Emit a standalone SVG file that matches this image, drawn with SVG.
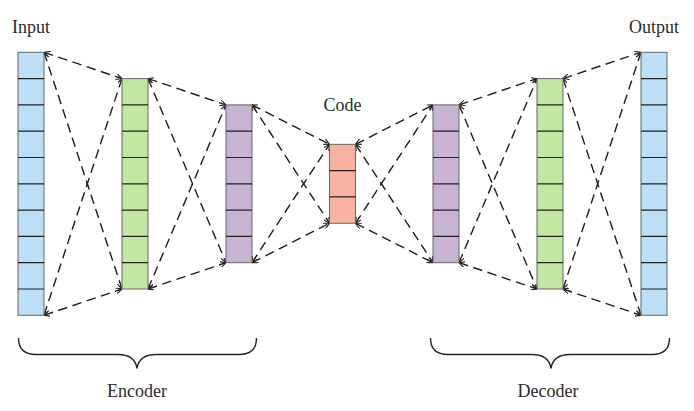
<svg xmlns="http://www.w3.org/2000/svg" width="694" height="411" viewBox="0 0 694 411">
<defs>
<marker id="ah" viewBox="0 0 6 6" refX="6" refY="3" markerWidth="6" markerHeight="6" markerUnits="userSpaceOnUse" orient="auto-start-reverse">
<path d="M0,0 L6,3 L0,6" fill="none" stroke="#222" stroke-width="1.1"/>
</marker>
</defs>
<style>
.lbl{font-family:"Liberation Serif","Times New Roman",serif;font-size:18px;fill:#2a2a2a}
.col{stroke:#666;stroke-width:1}
.div{stroke:#222;stroke-width:1.2}
.blue{fill:#bddff5}
.green{fill:#c4e6a3}
.purple{fill:#c9b3d3}
.red{fill:#f7b2a2}
.cn line{stroke:#1e1e1e;stroke-width:1.4;stroke-dasharray:9.5 5.5;marker-start:url(#ah);marker-end:url(#ah)}
.brace{fill:none;stroke:#222;stroke-width:1.4}
</style>
<rect width="694" height="411" fill="#fff"/>

<g id="connectors" class="cn">
<line x1="44" y1="52.3" x2="122" y2="78.6"/>
<line x1="44" y1="52.3" x2="122" y2="289"/>
<line x1="44" y1="315.3" x2="122" y2="78.6"/>
<line x1="44" y1="315.3" x2="122" y2="289"/>
<line x1="148" y1="78.6" x2="226" y2="104.9"/>
<line x1="148" y1="78.6" x2="226" y2="262.7"/>
<line x1="148" y1="289" x2="226" y2="104.9"/>
<line x1="148" y1="289" x2="226" y2="262.7"/>
<line x1="252" y1="104.9" x2="329.5" y2="144.35"/>
<line x1="252" y1="104.9" x2="329.5" y2="223.25"/>
<line x1="252" y1="262.7" x2="329.5" y2="144.35"/>
<line x1="252" y1="262.7" x2="329.5" y2="223.25"/>
<line x1="355.5" y1="144.35" x2="433" y2="104.9"/>
<line x1="355.5" y1="144.35" x2="433" y2="262.7"/>
<line x1="355.5" y1="223.25" x2="433" y2="104.9"/>
<line x1="355.5" y1="223.25" x2="433" y2="262.7"/>
<line x1="459" y1="104.9" x2="537" y2="78.6"/>
<line x1="459" y1="104.9" x2="537" y2="289"/>
<line x1="459" y1="262.7" x2="537" y2="78.6"/>
<line x1="459" y1="262.7" x2="537" y2="289"/>
<line x1="563" y1="78.6" x2="641" y2="52.3"/>
<line x1="563" y1="78.6" x2="641" y2="315.3"/>
<line x1="563" y1="289" x2="641" y2="52.3"/>
<line x1="563" y1="289" x2="641" y2="315.3"/>
</g>

<g id="input">
<rect class="col blue" x="18" y="52.3" width="26" height="263"/>
<path class="div" d="M18,78.6H44M18,104.9H44M18,131.2H44M18,157.5H44M18,183.8H44M18,210.1H44M18,236.4H44M18,262.7H44M18,289H44"/>
<text class="lbl" x="12" y="33">Input</text>
</g>

<g id="enc1">
<rect class="col green" x="122" y="78.6" width="26" height="210.4"/>
<path class="div" d="M122,104.9H148M122,131.2H148M122,157.5H148M122,183.8H148M122,210.1H148M122,236.4H148M122,262.7H148"/>
</g>

<g id="enc2">
<rect class="col purple" x="226" y="104.9" width="26" height="157.8"/>
<path class="div" d="M226,131.2H252M226,157.5H252M226,183.8H252M226,210.1H252M226,236.4H252"/>
</g>

<g id="code">
<rect class="col red" x="329.5" y="144.35" width="26" height="78.9"/>
<path class="div" d="M329.5,170.65H355.5M329.5,196.95H355.5"/>
<text class="lbl" x="342.5" y="111" text-anchor="middle">Code</text>
</g>

<g id="dec1">
<rect class="col purple" x="433" y="104.9" width="26" height="157.8"/>
<path class="div" d="M433,131.2H459M433,157.5H459M433,183.8H459M433,210.1H459M433,236.4H459"/>
</g>

<g id="dec2">
<rect class="col green" x="537" y="78.6" width="26" height="210.4"/>
<path class="div" d="M537,104.9H563M537,131.2H563M537,157.5H563M537,183.8H563M537,210.1H563M537,236.4H563M537,262.7H563"/>
</g>

<g id="output">
<rect class="col blue" x="641" y="52.3" width="26" height="263"/>
<path class="div" d="M641,78.6H667M641,104.9H667M641,131.2H667M641,157.5H667M641,183.8H667M641,210.1H667M641,236.4H667M641,262.7H667M641,289H667"/>
<text class="lbl" x="654" y="32.5" text-anchor="middle">Output</text>
</g>

<g id="encoder">
<path class="brace" d="M18.5,338 Q18.5,354.5 36,354.5 L118,354.5 Q135,354.5 137,368.5 Q139,354.5 156,354.5 L239,354.5 Q256.5,354.5 256.5,338"/>
<text class="lbl" x="137" y="396.5" text-anchor="middle">Encoder</text>
</g>

<g id="decoder">
<path class="brace" d="M430.5,338 Q430.5,354.5 448,354.5 L532,354.5 Q549,354.5 551,368.5 Q553,354.5 570,354.5 L652,354.5 Q669.5,354.5 669.5,338"/>
<text class="lbl" x="548" y="396.5" text-anchor="middle">Decoder</text>
</g>
</svg>
